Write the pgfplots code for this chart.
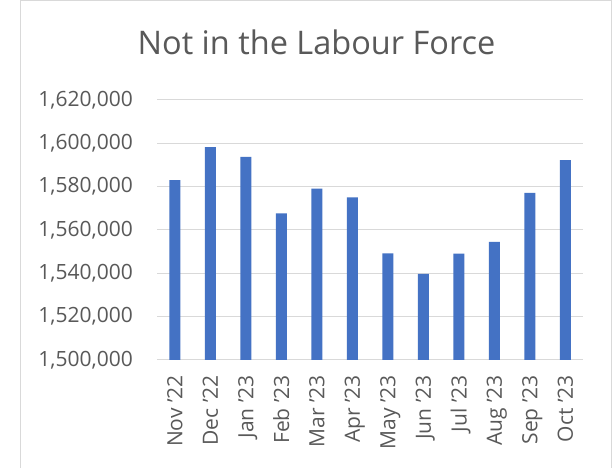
\documentclass[border=0pt]{standalone}
\usepackage{pgfplots}
\pgfplotsset{compat=1.18}
\usepackage{fontspec}
\setmainfont{Open Sans}
\definecolor{barblue}{HTML}{4472C4}
\definecolor{gridgray}{HTML}{D9D9D9}
\definecolor{textgray}{HTML}{595959}
\begin{document}
\begin{tikzpicture}[x=1pt,y=1pt]
\useasboundingbox (0,0) rectangle (616,468);
\fill[white] (0,0) rectangle (616,468);
\draw[gridgray, line width=1pt] (20,-5) rectangle (611,467);
\node[anchor=base, text=textgray, font=\fontsize{32.5}{38}\selectfont, inner sep=0pt] at (316.5,413) {Not in the Labour Force};
\begin{axis}[
  at={(157pt,108pt)}, anchor=south west,
  scale only axis, width=426pt, height=260pt,
  xmin=-0.5, xmax=11.5,
  ymin=1500000, ymax=1620000,
  ytick={1500000,1520000,1540000,1560000,1580000,1600000,1620000},
  xtick={0,...,11},
  xticklabels={Nov '22,Dec '22,Jan '23,Feb '23,Mar '23,Apr '23,May '23,Jun '23,Jul '23,Aug '23,Sep '23,Oct '23},
  axis line style={draw=none},
  major tick length=0pt,
  ymajorgrids, grid style={gridgray, line width=1pt},
  scaled y ticks=false,
  /pgf/number format/fixed,
  /pgf/number format/1000 sep={,},
  /pgf/number format/assume math mode=true,
  tick label style={font=\fontsize{21}{24}\selectfont, text=textgray, inner sep=0pt},
  yticklabel style={anchor=east},
  yticklabel shift=24pt,
  xticklabel style={rotate=90, anchor=east, text depth=0pt},
  xticklabel shift=15pt,
  clip=false,
]
\addplot[ybar, bar width=11pt, fill=barblue, draw=none] coordinates {
(0,1583000) (1,1598300) (2,1593700) (3,1567700) (4,1579100) (5,1575100)
(6,1549200) (7,1539700) (8,1549100) (9,1554500) (10,1577100) (11,1592200)
};
\end{axis}
\end{tikzpicture}
\end{document}
